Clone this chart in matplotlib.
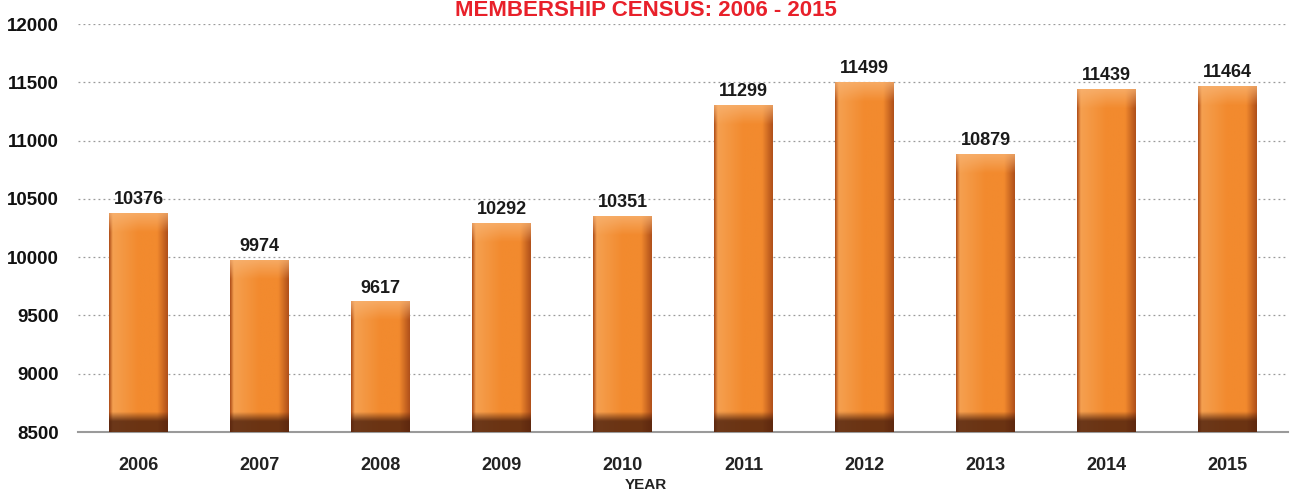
import numpy as np
import matplotlib
matplotlib.use("Agg")
import matplotlib.pyplot as plt
from matplotlib.colors import to_rgb

years = ["2006", "2007", "2008", "2009", "2010", "2011", "2012", "2013", "2014", "2015"]
members = [10376, 9974, 9617, 10292, 10351, 11299, 11499, 10879, 11439, 11464]
yticks = [8500, 9000, 9500, 10000, 10500, 11000, 11500, 12000]
title = "MEMBERSHIP CENSUS: 2006 - 2015"
xlabel = "YEAR"

plt.rcParams["font.family"] = ["Liberation Sans", "DejaVu Sans"]

fig = plt.figure(figsize=(12.94, 4.93), dpi=100)
ax = fig.add_axes([0.0603, 0.1237, 0.935, 0.8276])

ymin, ymax = 8500, 12000
bw = 0.48

base = np.array(to_rgb("#F28A2E"))
light = np.array(to_rgb("#F5A050"))
edge = np.array(to_rgb("#B0501A"))
dark = np.array(to_rgb("#4A1E0C"))
cap = np.array(to_rgb("#F8B474"))

nh, nv = 80, 240
u = np.linspace(0, 1, nh)


def hprofile():
    h = np.zeros((nh, 3))
    for i, t in enumerate(u):
        if t < 0.06:
            s = t / 0.06
            c = edge * (1 - s) + light * s
        elif t < 0.5:
            s = (t - 0.06) / 0.44
            c = light * (1 - s) + base * s
        elif t < 0.82:
            c = base
        else:
            s = (t - 0.82) / 0.18
            c = base * (1 - s) + edge * s
        h[i] = c
    return h


HP = hprofile()


def bar_image(span):
    img = np.zeros((nv, nh, 3))
    for j in range(nv):
        yv = ymin + span * (1 - j / (nv - 1))
        from_top = ymin + span - yv
        from_bot = yv - ymin
        row = HP.copy()
        if from_top < 160:
            s = from_top / 160
            row = row * s + (cap * 0.75 + HP * 0.25) * (1 - s)
        if from_bot < 90:
            row = row * 0.2 + dark * 0.8
        elif from_bot < 170:
            s = (from_bot - 90) / 80
            row = row * (0.2 + 0.8 * s) + dark * 0.8 * (1 - s)
        img[j] = np.clip(row, 0, 1)
    return img


x = np.arange(len(years))
ax.yaxis.grid(True, linestyle=(0, (1.5, 2.5)), color="#9a9a9a", linewidth=0.9)
ax.set_axisbelow(True)
for xi, v in zip(x, members):
    ax.bar(xi, v - ymin, bottom=ymin, width=bw, color="none", zorder=2)
    ax.imshow(bar_image(v - ymin), extent=(xi - bw / 2, xi + bw / 2, ymin, v),
              aspect="auto", zorder=3, interpolation="bilinear")
    ax.text(xi, v + 45, f"{v}", ha="center", va="bottom", fontsize=13,
            fontweight="bold", color="#1a1a1a", zorder=4)

ax.set_xticks(x)
ax.set_xticklabels(years, fontsize=13, fontweight="bold", color="#222222")
ax.set_yticks(yticks)
ax.set_yticklabels([str(t) for t in yticks], fontsize=13.5, fontweight="bold", color="#111111")
ax.tick_params(axis="both", length=0)
ax.tick_params(axis="x", pad=18)
ax.tick_params(axis="y", pad=14)
for s in ["top", "right", "left"]:
    ax.spines[s].set_visible(False)
ax.spines["bottom"].set_color("#9a9a9a")
ax.spines["bottom"].set_linewidth(1.5)
ax.set_xlim(-0.5, len(years) - 0.5)
ax.set_ylim(ymin, ymax)

fig.text(0.499, 0.016, xlabel, ha="center", va="center", fontsize=11, fontweight="bold", color="#222222")
fig.text(0.499, 0.999, title, ha="center", va="top", fontsize=16, fontweight="bold", color="#E8202A")

fig.savefig("out.png", dpi=100, facecolor="white")
